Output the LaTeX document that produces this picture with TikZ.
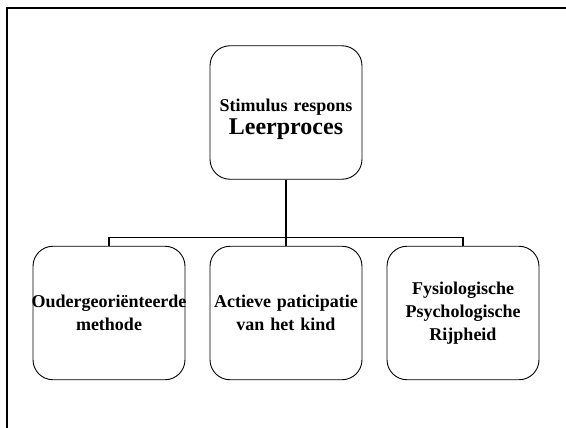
\documentclass[tikz,border=0pt]{standalone}
\usepackage{fontspec}
\setmainfont{Liberation Serif}

\begin{document}
\begin{tikzpicture}[x=1pt,y=-1pt,
  leerbox/.style={draw,rounded corners=20pt,line width=0.9pt,minimum width=152pt,minimum height=133.5pt,text width=140pt,align=center,inner sep=0pt,font=\bfseries\fontsize{18}{23}\selectfont},
  tak/.style={line width=1.5pt}]
\useasboundingbox (0,0) rectangle (566,428);
\draw[line width=2pt] (7,428) |- (566,8);
\node[leerbox] (leerproces) at (286,112.5) {\rule{0pt}{26pt}Stimulus respons\\[0pt]{\fontsize{24}{26}\selectfont Leerproces}};
\node[leerbox] (ouder) at (109,313) {\makebox[\linewidth]{Oudergeoriënteerde}\\methode};
\node[leerbox] (actief) at (286,313) {\makebox[\linewidth]{Actieve paticipatie}\\van het kind};
\node[leerbox] (rijp) at (463,313) {Fysiologische\\Psychologische\\Rijpheid};
\draw[tak] (leerproces.south) -- ++(0,58) -| (ouder.north);
\draw[tak] (leerproces.south) -- ++(0,58) -| (rijp.north);
\draw[tak] (leerproces.south) -- (actief.north);
\end{tikzpicture}
\end{document}
